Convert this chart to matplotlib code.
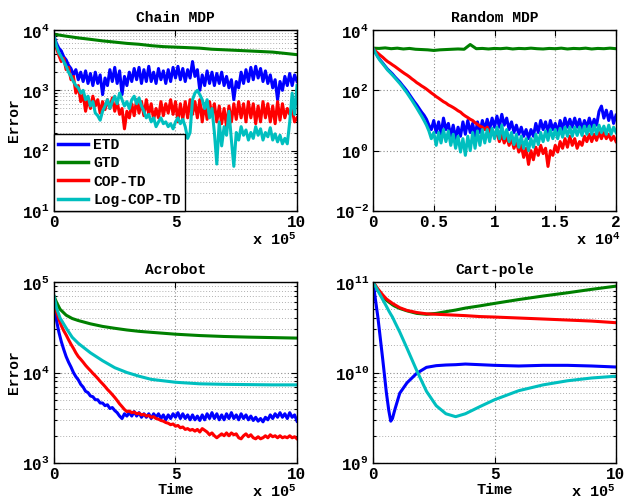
import numpy as np
import matplotlib
matplotlib.use("Agg")
import matplotlib.pyplot as plt
from matplotlib.ticker import LogLocator, NullFormatter, FixedLocator, LogFormatterSciNotation

plt.rcParams['font.family'] = ['Liberation Mono', 'DejaVu Sans Mono']
plt.rcParams['font.weight'] = 'bold'
plt.rcParams['mathtext.fontset'] = 'custom'
plt.rcParams['mathtext.rm'] = 'Liberation Mono:bold'
plt.rcParams['mathtext.it'] = 'Liberation Mono:bold'
plt.rcParams['mathtext.bf'] = 'Liberation Mono:bold'
plt.rcParams['mathtext.default'] = 'rm'

labels = ['ETD', 'GTD', 'COP-TD', 'Log-COP-TD']
colors = ['#0000ff', '#008000', '#ff0000', '#00bfbf']
titles = ['Chain MDP', 'Random MDP', 'Acrobot', 'Cart-pole']

# ---------------- Chain MDP (x in units of 1e5) ----------------
chain_t = np.linspace(0, 10, 101)
chain_etd = [8000, 6000, 5000, 4500, 3600, 3200, 2600, 2300, 1800, 2200,
             1500, 2000, 1400, 2100, 1300, 1900, 1200, 2000, 1300, 1800,
             850, 1600, 1200, 2200, 1400, 2400, 1300, 2100, 850, 1700,
             1200, 2000, 1400, 2300, 1500, 2400, 1300, 2200, 1400, 2500,
             1400, 2000, 1300, 2300, 1500, 2100, 1300, 2200, 1400, 2400,
             1600, 2500, 1500, 2300, 1400, 2200, 1600, 3000, 1700, 2200,
             1000, 1800, 1200, 2100, 1300, 2000, 1200, 1900, 1300, 2000,
             1200, 1700, 1100, 1500, 700, 1400, 1100, 2000, 1300, 2200,
             1400, 2400, 1500, 2500, 1600, 2300, 1400, 2100, 1300, 1800,
             1100, 1500, 700, 1400, 1000, 1700, 1200, 1900, 1200, 1800,
             1400]
chain_gtd_t = np.linspace(0, 10, 21)
chain_gtd = [8500, 7900, 7400, 7000, 6600, 6300, 6000, 5800, 5500, 5300,
             5200, 5100, 5000, 4800, 4700, 4600, 4500, 4400, 4300, 4100, 3900]
chain_cop = [7500, 5000, 3800, 3000, 3400, 2200, 2400, 1500, 1700, 900,
             1200, 650, 850, 450, 750, 500, 800, 550, 700, 420,
             650, 480, 700, 500, 750, 450, 650, 400, 500, 230,
             450, 350, 600, 380, 700, 420, 650, 380, 700, 400,
             600, 330, 500, 350, 650, 380, 600, 420, 700, 400,
             650, 300, 600, 330, 650, 350, 700, 400, 650, 350,
             700, 300, 600, 330, 650, 380, 600, 300, 550, 280,
             500, 250, 550, 300, 600, 330, 650, 350, 600, 300,
             650, 350, 600, 280, 550, 300, 650, 350, 600, 300,
             550, 280, 650, 320, 600, 350, 500, 400, 480, 300,
             350]
chain_log = [7800, 5500, 4200, 3600, 3000, 2500, 2000, 1700, 1400, 1200,
             1100, 900, 1000, 700, 800, 550, 650, 420, 380, 320,
             450, 550, 700, 500, 650, 800, 600, 900, 700, 550,
             650, 500, 700, 800, 600, 750, 550, 450, 350, 400,
             300, 350, 250, 300, 350, 280, 300, 250, 280, 230,
             300, 350, 280, 330, 250, 160, 200, 700, 900, 1000,
             850, 700, 500, 700, 350, 500, 200, 60, 300, 120,
             250, 180, 450, 150, 55, 200, 150, 250, 180, 220,
             150, 200, 160, 250, 180, 230, 150, 200, 170, 240,
             150, 190, 140, 180, 130, 160, 130, 300, 900, 400,
             1200]

# ---------------- Random MDP (x in units of 1e4) ----------------
rand_t = np.linspace(0, 2, 101)
rand_etd = [2500, 1800, 1300, 1000, 800, 630, 500, 420, 350, 280,
            230, 190, 150, 120, 95, 72, 55, 42, 33, 25,
            19, 15, 11, 7, 5, 10, 4, 9, 3.5, 12,
            5, 8, 3, 7, 2.5, 6, 3, 9, 3.5, 10,
            4, 8, 3, 9, 4, 10, 5, 11, 5, 12,
            6, 14, 6, 16, 7, 12, 5, 9, 4, 7,
            3.5, 6, 3, 5, 2.5, 5, 3, 8, 4, 10,
            5, 9, 4, 10, 5, 8, 4, 10, 5, 12,
            6, 11, 6, 12, 6, 11, 5, 10, 6, 12,
            6, 11, 7, 20, 30, 12, 22, 10, 20, 8,
            15]
rand_gtd_t = np.linspace(0, 2, 41)
rand_gtd = [2500, 2450, 2550, 2400, 2500, 2350, 2450, 2300, 2250, 2200,
            2100, 2200, 2250, 2300, 2350, 2300, 3300, 2400, 2450, 2350,
            2450, 2400, 2500, 2350, 2450, 2400, 2500, 2400, 2350, 2450,
            2400, 2500, 2350, 2450, 2400, 2500, 2350, 2450, 2400, 2500,
            2400]
rand_cop = [2500, 2000, 1700, 1450, 1250, 1050, 900, 800, 700, 620,
            540, 470, 410, 360, 320, 280, 240, 210, 180, 160,
            140, 125, 110, 95, 82, 72, 62, 55, 48, 42,
            38, 33, 30, 27, 24, 21, 19, 16, 14, 12.5,
            11, 10, 8.5, 7.5, 6.5, 6, 5, 6, 4, 5,
            3, 4, 2, 3.5, 1.8, 3, 1.5, 2.5, 1.2, 2,
            0.9, 1.5, 0.6, 1.2, 0.35, 1.0, 0.5, 1.3, 0.7, 1.5,
            0.8, 1.2, 0.3, 1.0, 0.7, 1.5, 0.9, 2, 1.2, 2.5,
            1.3, 3, 1.5, 2.5, 1.2, 2, 1.5, 3, 2, 3.5,
            2, 3.5, 2.2, 4, 2.5, 4, 2.5, 3.5, 2.2, 3,
            2]
rand_log = [2500, 1750, 1250, 950, 760, 600, 470, 390, 320, 260,
            210, 170, 135, 105, 82, 62, 47, 35, 26, 19,
            14, 10, 7, 4.5, 2.5, 4, 1.5, 4, 1.8, 5,
            2, 4.5, 1.5, 3.5, 1.2, 3, 0.9, 2.5, 0.7, 3,
            1.0, 4, 1.2, 4.5, 1.5, 5, 1.8, 5, 2, 5.5,
            2.5, 6, 2.5, 7, 2.5, 5, 2, 4, 1.6, 3.5,
            1.3, 3, 1.2, 2.5, 1.0, 2.5, 1.3, 3.5, 1.6, 4,
            2, 4.5, 2.2, 5, 2.5, 5, 2.5, 5.5, 2.8, 6,
            3, 6, 3, 6, 3.2, 6, 3.2, 6.5, 3.5, 6.5,
            3.5, 7, 3.5, 7, 4, 6.5, 3.5, 7, 3.5, 6,
            4]

# ---------------- Acrobot (x in units of 1e5) ----------------
acro_t = np.linspace(0, 10, 101)
acro_etd = [60000, 38000, 28000, 22000, 18000, 15000, 13000, 11500, 10000, 9000,
            8300, 7400, 6900, 6200, 6000, 5500, 5400, 5000, 5000, 4600,
            4600, 4300, 4400, 4000, 4100, 3800, 3600, 3300, 3100, 3500,
            3300, 3600, 3300, 3700, 3300, 3600, 3200, 3500, 3200, 3500,
            3100, 3500, 3200, 3500, 3100, 3400, 3000, 3400, 3100, 3500,
            3200, 3600, 3100, 3500, 3100, 3400, 3000, 3400, 3000, 3300,
            2950, 3400, 3000, 3500, 3100, 3600, 3100, 3500, 3000, 3400,
            3000, 3500, 3100, 3600, 3100, 3400, 3000, 3500, 3100, 3400,
            3000, 3300, 2950, 3200, 2900, 3100, 2850, 3200, 3000, 3400,
            3100, 3500, 3200, 3600, 3200, 3500, 3100, 3600, 3200, 3400,
            2900]
acro_cop = [62000, 47000, 39000, 33000, 29000, 26000, 23000, 20500, 18500, 16500,
            15000, 14000, 13000, 12000, 11200, 10500, 9800, 9200, 8600, 8000,
            7500, 7000, 6500, 6100, 5700, 5300, 4900, 4500, 4200, 3900,
            3700, 3750, 3600, 3650, 3500, 3550, 3400, 3450, 3300, 3350,
            3200, 3250, 3100, 3050, 2950, 2900, 2800, 2750, 2650, 2700,
            2550, 2600, 2450, 2500, 2350, 2400, 2300, 2350, 2250, 2350,
            2200, 2400, 2300, 2200, 2050, 2150, 2000, 1900, 2000, 2100,
            2000, 2150, 2000, 2150, 2050, 2100, 1900, 1850, 2000, 2100,
            1950, 2050, 1900, 1850, 1950, 1850, 1900, 2000, 1900, 2050,
            1950, 2000, 1900, 2000, 1900, 1950, 1900, 2000, 1900, 1950,
            1850]
acro_s_t = [0, 0.1, 0.25, 0.5, 0.75, 1, 1.5, 2, 2.5, 3, 3.5, 4, 5, 6, 7, 8, 9, 10]
acro_gtd = [70000, 60000, 50000, 43000, 39500, 37500, 34500, 32300, 30800, 29500,
            28500, 27800, 26500, 25600, 25000, 24600, 24300, 24000]
acro_log = [70000, 52000, 40000, 31000, 24500, 21000, 16500, 13500, 11300, 10000,
            9100, 8400, 7800, 7500, 7400, 7350, 7300, 7300]

# ---------------- Cart-pole (x in units of 1e5) ----------------
cp_t = [0, 0.2, 0.4, 0.55, 0.65, 0.73, 0.8, 0.9, 1.1, 1.4, 1.8, 2.2, 2.6, 3.0,
        3.4, 3.8, 4.4, 5.0, 6.0, 7.0, 8.0, 9.0, 10.0]
cp_etd = [1e11, 4.1e10, 1.4e10, 6.0e9, 3.8e9, 2.9e9, 3.1e9, 3.9e9, 5.9e9, 7.7e9,
          9.8e9, 1.14e10, 1.19e10, 1.21e10, 1.22e10, 1.24e10, 1.22e10, 1.2e10,
          1.18e10, 1.2e10, 1.2e10, 1.18e10, 1.15e10]
cp_gtd = [1e11, 8.2e10, 7.0e10, 6.3e10, 6.0e10, 5.8e10, 5.6e10, 5.4e10, 5.1e10, 4.8e10,
          4.5e10, 4.4e10, 4.5e10, 4.7e10, 4.9e10, 5.15e10, 5.45e10, 5.8e10,
          6.4e10, 7.0e10, 7.6e10, 8.3e10, 9.0e10]
cp_cop = [1e11, 8.4e10, 7.2e10, 6.5e10, 6.2e10, 6.0e10, 5.8e10, 5.6e10, 5.2e10, 4.85e10,
          4.6e10, 4.45e10, 4.4e10, 4.35e10, 4.3e10, 4.25e10, 4.15e10, 4.1e10,
          4.0e10, 3.9e10, 3.8e10, 3.7e10, 3.55e10]
cp_log = [1e11, 8.0e10, 6.4e10, 5.4e10, 4.8e10, 4.4e10, 4.1e10, 3.6e10, 2.8e10, 1.85e10,
          1.05e10, 6.2e9, 4.3e9, 3.5e9, 3.25e9, 3.5e9, 4.2e9, 5.0e9,
          6.3e9, 7.3e9, 8.1e9, 8.7e9, 9.1e9]

panels = [
    dict(series=[(chain_t, chain_etd), (chain_gtd_t, chain_gtd), (chain_t, chain_cop), (chain_t, chain_log)],
         xlim=(0, 10), xticks=[0, 5, 10], xticklabels=['0', '5', '10'], ylim=(1e1, 1e4),
         yticks=[1e1, 1e2, 1e3, 1e4], minor=True, xexp='x 10$^{5}$'),
    dict(series=[(rand_t, rand_etd), (rand_gtd_t, rand_gtd), (rand_t, rand_cop), (rand_t, rand_log)],
         xlim=(0, 2), xticks=[0, 0.5, 1, 1.5, 2], xticklabels=['0', '0.5', '1', '1.5', '2'],
         ylim=(1e-2, 1e4), yticks=[1e-2, 1e0, 1e2, 1e4], minor=False, xexp='x 10$^{4}$'),
    dict(series=[(acro_t, acro_etd), (acro_s_t, acro_gtd), (acro_t, acro_cop), (acro_s_t, acro_log)],
         xlim=(0, 10), xticks=[0, 5, 10], xticklabels=['0', '5', '10'], ylim=(1e3, 1e5),
         yticks=[1e3, 1e4, 1e5], minor=True, xexp='x 10$^{5}$'),
    dict(series=[(cp_t, cp_etd), (cp_t, cp_gtd), (cp_t, cp_cop), (cp_t, cp_log)],
         xlim=(0, 10), xticks=[0, 5, 10], xticklabels=['0', '5', '10'], ylim=(1e9, 1e11),
         yticks=[1e9, 1e10, 1e11], minor=True, xexp='x 10$^{5}$'),
]

fig = plt.figure(figsize=(6.27, 5.0), dpi=100)
positions = [
    [0.0861, 0.578, 0.3876, 0.362],
    [0.5949, 0.578, 0.3876, 0.362],
    [0.0861, 0.074, 0.3876, 0.362],
    [0.5949, 0.074, 0.3876, 0.362],
]

for i, (p, pos) in enumerate(zip(panels, positions)):
    ax = fig.add_axes(pos)
    for (t, v), c, lab in zip(p['series'], colors, labels):
        ax.plot(t, v, color=c, lw=2.2, label=lab)
    ax.set_yscale('log')
    ax.set_xlim(*p['xlim'])
    ax.set_ylim(*p['ylim'])
    ax.xaxis.set_major_locator(FixedLocator(p['xticks']))
    ax.set_xticklabels(p['xticklabels'])
    ax.yaxis.set_major_locator(FixedLocator(p['yticks']))
    ax.yaxis.set_major_formatter(LogFormatterSciNotation())
    if p['minor']:
        ax.yaxis.set_minor_locator(LogLocator(base=10, subs=np.arange(2, 10), numticks=20))
        ax.grid(True, which='minor', axis='y', color='#b0b0b0', linestyle=(0, (1, 2)), lw=0.7)
    else:
        ax.yaxis.set_minor_locator(FixedLocator([]))
    ax.yaxis.set_minor_formatter(NullFormatter())
    ax.grid(True, which='major', axis='both', color='#8c8c8c', linestyle=(0, (1, 2)), lw=0.8)
    ax.tick_params(which='both', direction='in', top=True, right=True, labelsize=11.5,
                   pad=3, width=0.8)
    ax.tick_params(which='major', length=4)
    ax.tick_params(which='minor', length=2)
    for lbl in ax.get_xticklabels() + ax.get_yticklabels():
        lbl.set_fontweight('bold')
    for sp in ax.spines.values():
        sp.set_linewidth(1.0)
        sp.set_color('black')
    ax.set_title(titles[i], fontsize=10.5, fontweight='bold', pad=6)
    xr = 1.0 if i != 1 else 1.02
    ax.text(xr, -0.115, p['xexp'], transform=ax.transAxes, ha='right', va='top',
            fontsize=11, fontweight='bold')
    if i in (0, 2):
        ax.set_ylabel('Error', fontsize=10.5, fontweight='bold', labelpad=1)
    if i in (2, 3):
        ax.set_xlabel('Time', fontsize=11, fontweight='bold', labelpad=0.5)
    if i == 0:
        leg = ax.legend(loc='lower left', borderaxespad=0, fancybox=False, framealpha=1,
                        edgecolor='black', prop={'family': 'Liberation Mono', 'weight': 'bold', 'size': 10.5},
                        handlelength=2.0, handletextpad=0.4, labelspacing=0.28, borderpad=0.3)
        leg.get_frame().set_linewidth(1.0)
        for lh in leg.get_lines():
            lh.set_linewidth(2.5)

fig.savefig('out.png', dpi=100)
